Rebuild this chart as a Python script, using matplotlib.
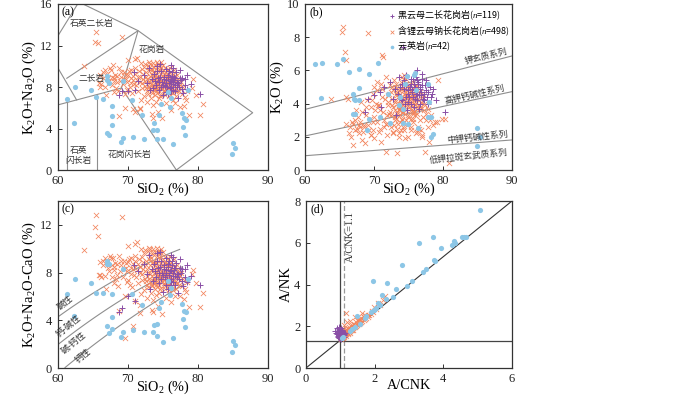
import matplotlib
matplotlib.use("Agg")
import matplotlib.pyplot as plt
import numpy as np

plt.rcParams['font.family'] = ['Liberation Serif', 'Noto Sans CJK SC']
plt.rcParams['mathtext.fontset'] = 'custom'
plt.rcParams['mathtext.rm'] = 'Liberation Serif'
plt.rcParams['mathtext.it'] = 'Liberation Serif:italic'
plt.rcParams['axes.unicode_minus'] = False

# ---------------- data ----------------
# 含锂云母钠长花岗岩 (orange crosses): SiO2, K2O+Na2O, K2O+Na2O-CaO, K2O
ms_sio2 = [65.5, 65.3, 65.8, 69.2, 63.8, 65.9, 66.7, 66.9, 66.0, 67.9,
           71.1, 71.3, 70.0, 68.7, 69.6, 70.7, 71.0, 71.7, 73.4, 73.6,
           74.3, 74.9, 76.2, 77.4, 78.3, 79.1, 79.3, 79.8, 80.8, 78.8,
           78.1, 76.4, 80.3, 66.5, 67.0, 67.3, 67.6, 68.0, 68.2, 68.5,
           68.8, 69.0, 69.3, 69.5, 69.8, 70.0, 70.3, 70.5, 70.8, 71.0,
           71.2, 71.5, 71.7, 72.0, 72.2, 67.8, 68.6, 69.9, 70.6, 71.4,
           66.2, 67.4, 72.4, 72.6, 72.8, 73.0, 73.1, 73.2, 73.3, 73.4,
           73.5, 73.6, 73.7, 73.8, 73.9, 74.0, 74.0, 74.1, 74.2, 74.3,
           74.4, 74.5, 74.6, 74.7, 74.8, 74.9, 75.0, 75.1, 75.2, 75.3,
           75.4, 75.5, 75.6, 75.7, 75.8, 75.9, 76.0, 76.1, 76.2, 76.3,
           76.5, 76.6, 76.8, 77.0, 77.2, 72.7, 72.9, 73.3, 73.5, 73.7,
           73.9, 74.1, 74.2, 74.4, 74.6, 74.7, 74.9, 75.1, 75.3, 75.5,
           75.7, 75.9, 76.1, 76.4, 76.7, 77.1, 72.5, 73.0, 73.4, 73.8,
           74.3, 74.8, 75.2, 75.6, 76.0, 76.5, 77.4, 77.6, 72.3, 71.9,
           74.0, 75.4, 77.8, 73.6, 72.1, 70.4, 69.6, 68.0, 71.8, 76.8,
           72.6, 72.8, 73.0, 73.1, 73.2, 73.3, 73.4, 73.5, 73.6, 73.7,
           73.8, 73.9, 74.0, 74.1, 74.2, 74.3, 74.4, 74.5, 74.6, 74.7,
           74.8, 74.9, 75.0, 75.1, 75.2, 75.3, 75.4, 75.5, 75.6, 75.7,
           75.8, 75.9, 76.0, 76.2, 76.3, 76.5, 76.7, 76.9, 77.1, 77.3,
           72.4, 72.2, 72.0, 71.8, 71.6, 71.3, 71.1, 70.9, 70.7, 70.4,
           70.2, 69.9, 69.7, 69.4, 69.1, 68.9, 68.4, 68.1, 67.7, 67.2,
           66.8, 66.4, 66.0, 72.9, 73.2, 73.9, 74.3, 74.6, 75.0, 75.3,
           75.7, 76.1, 76.6, 77.0, 77.5, 73.0, 73.6, 74.2, 74.7, 72.3,
           71.9, 72.6, 70.0, 68.3, 72.7, 74.5, 76.9, 78.5, 77.9, 78.0]
ms_alk = [13.3, 12.3, 12.2, 12.8, 10.0, 8.4, 8.0, 7.2, 9.2, 10.1,
          10.7, 10.8, 10.6, 5.2, 6.0, 5.9, 5.6, 5.9, 5.4, 5.0,
          5.6, 5.0, 5.8, 6.1, 6.7, 7.9, 8.8, 7.2, 6.4, 5.3,
          7.0, 6.7, 5.3, 8.9, 9.3, 8.6, 9.6, 8.9, 9.2, 8.5,
          9.8, 9.0, 8.3, 9.4, 8.8, 9.2, 8.0, 9.6, 8.7, 9.3,
          8.2, 9.0, 8.5, 9.7, 8.8, 8.2, 7.6, 7.7, 7.4, 7.6,
          8.3, 9.8, 10.2, 9.0, 8.3, 9.5, 7.8, 10.2, 8.7, 9.2,
          7.4, 8.9, 9.9, 8.1, 9.4, 8.5, 7.6, 10.4, 9.0, 8.2,
          9.7, 7.9, 8.8, 9.3, 7.2, 8.4, 9.6, 8.0, 8.9, 7.5,
          9.2, 8.6, 7.8, 9.0, 8.3, 7.1, 8.7, 9.4, 7.9, 8.5,
          7.4, 8.9, 8.1, 7.6, 8.6, 7.6, 10.0, 6.9, 9.6, 8.6,
          7.8, 8.7, 7.4, 8.5, 10.0, 8.0, 9.1, 8.5, 9.8, 8.2,
          7.5, 9.1, 8.0, 8.7, 7.7, 8.2, 8.1, 8.6, 8.0, 9.1,
          9.5, 8.6, 7.7, 8.8, 9.8, 9.3, 7.9, 8.5, 7.1, 6.7,
          6.6, 6.5, 7.3, 6.3, 7.9, 8.4, 7.3, 7.5, 6.0, 6.5,
          9.4, 8.8, 8.0, 9.1, 8.4, 9.7, 7.6, 8.2, 9.4, 7.9,
          8.8, 10.1, 9.2, 7.9, 8.4, 8.8, 7.6, 9.1, 8.2, 8.6,
          9.8, 7.8, 8.4, 9.3, 8.1, 8.7, 7.8, 9.4, 8.4, 8.1,
          9.2, 7.7, 8.3, 9.0, 7.8, 8.4, 9.1, 7.9, 8.8, 7.6,
          8.6, 9.3, 8.4, 9.0, 9.5, 8.7, 9.8, 8.3, 9.1, 8.9,
          9.5, 8.5, 9.2, 8.8, 9.4, 8.6, 9.1, 8.6, 9.0, 8.9,
          9.6, 9.4, 8.0, 7.3, 9.9, 7.2, 10.2, 7.1, 10.1, 7.2,
          9.7, 7.5, 9.6, 9.2, 8.2, 10.4, 10.3, 9.9, 10.4, 9.9,
          10.3, 7.9, 7.8, 7.9, 6.6, 6.9, 7.1, 7.6, 8.0, 6.2]
ms_mali = [12.8, 11.8, 11.1, 12.7, 9.9, 7.8, 7.7, 6.6, 8.9, 9.2,
           10.4, 10.6, 10.2, 4.8, 2.5, 3.5, 5.6, 4.6, 4.9, 4.7,
           5.2, 4.5, 5.5, 6.0, 6.4, 7.9, 8.2, 7.1, 6.3, 5.1,
           6.6, 6.5, 5.1, 8.6, 9.0, 8.1, 9.2, 8.5, 8.8, 7.8,
           9.4, 8.6, 7.6, 9.0, 8.4, 8.9, 7.0, 9.2, 8.3, 9.0,
           7.6, 8.7, 8.0, 9.3, 8.3, 7.6, 6.9, 7.2, 6.8, 7.1,
           7.6, 9.4, 9.9, 8.6, 7.7, 9.1, 7.2, 10.0, 8.2, 8.8,
           6.9, 8.4, 9.5, 7.5, 8.9, 8.0, 7.0, 10.1, 8.5, 7.7,
           9.3, 7.3, 8.3, 8.8, 6.7, 7.9, 9.1, 7.4, 8.4, 6.9,
           8.7, 8.1, 7.2, 8.6, 7.8, 6.5, 8.2, 8.9, 7.4, 7.9,
           6.8, 8.3, 7.6, 7.1, 8.0, 7.0, 9.8, 6.3, 9.6, 8.0,
           7.1, 8.2, 6.8, 7.9, 9.7, 7.5, 8.6, 7.9, 9.3, 7.6,
           7.0, 8.6, 7.5, 8.1, 7.2, 7.6, 7.5, 8.0, 7.4, 8.7,
           9.0, 8.1, 7.1, 8.3, 9.3, 8.7, 7.4, 8.0, 6.5, 6.2,
           6.1, 5.9, 6.9, 5.7, 7.4, 7.9, 6.0, 7.1, 5.3, 6.0,
           9.0, 8.3, 7.5, 8.6, 7.9, 9.2, 7.0, 7.7, 8.9, 7.3,
           8.3, 9.7, 8.7, 7.3, 7.9, 8.2, 7.0, 8.6, 7.6, 8.0,
           9.3, 7.2, 7.8, 8.8, 7.5, 8.1, 7.2, 8.9, 7.8, 7.5,
           8.6, 7.1, 7.7, 8.4, 7.2, 7.8, 8.5, 7.3, 8.2, 7.0,
           8.1, 8.9, 7.9, 8.5, 9.1, 8.2, 9.4, 7.8, 8.7, 8.4,
           9.1, 8.1, 8.8, 8.3, 9.0, 8.1, 8.7, 8.2, 8.6, 8.4,
           9.2, 9.0, 7.8, 6.8, 9.4, 6.6, 9.8, 6.6, 9.7, 6.6,
           9.2, 6.9, 9.1, 8.6, 7.7, 10.1, 10.0, 9.4, 10.0, 9.6,
           10.0, 7.3, 7.4, 7.5, 5.9, 6.3, 6.6, 7.2, 7.5, 5.8]
ms_k2o = [8.6, 8.3, 7.1, 8.25, 4.3, 6.6, 2.0, 1.5, 2.8, 2.7,
          6.9, 6.8, 5.0, 1.6, 2.1, 2.3, 1.7, 1.1, 1.0, 2.2,
          2.4, 2.0, 2.3, 1.1, 3.3, 2.9, 5.4, 3.1, 0.45, 2.9,
          3.0, 2.6, 3.1, 2.6, 2.8, 3.0, 2.5, 2.9, 3.5, 2.7,
          3.3, 4.2, 2.4, 3.8, 4.6, 3.2, 4.0, 4.8, 3.6, 5.2,
          4.4, 3.0, 5.6, 4.1, 3.4, 2.2, 2.6, 2.9, 3.9, 2.6,
          4.3, 3.6, 4.7, 4.3, 3.8, 5.0, 3.2, 4.6, 4.0, 3.5,
          2.8, 4.8, 4.2, 3.7, 5.3, 4.4, 3.0, 4.9, 3.9, 4.6,
          5.7, 3.4, 4.1, 3.6, 2.7, 4.5, 5.1, 3.8, 4.2, 3.1,
          4.7, 3.9, 2.9, 4.4, 3.5, 3.3, 4.0, 4.8, 3.7, 4.3,
          2.5, 3.8, 4.1, 2.0, 3.6, 2.3, 5.4, 2.5, 4.4, 3.3,
          4.9, 3.1, 5.0, 2.9, 4.0, 5.5, 3.2, 4.9, 4.3, 4.6,
          3.6, 5.0, 2.2, 4.5, 3.0, 4.6, 2.6, 3.6, 4.7, 3.8,
          4.2, 4.8, 4.0, 3.4, 4.1, 3.9, 3.9, 3.4, 3.5, 2.1,
          3.5, 2.4, 2.6, 2.0, 4.5, 5.3, 2.1, 2.6, 2.8, 2.4,
          3.9, 4.8, 4.1, 3.0, 5.2, 4.5, 3.4, 4.9, 3.7, 4.6,
          2.9, 4.3, 5.6, 4.0, 3.5, 4.8, 4.3, 3.7, 5.2, 4.5,
          3.9, 4.2, 3.3, 5.0, 4.4, 3.6, 4.8, 4.1, 5.3, 3.1,
          4.5, 3.9, 4.6, 3.4, 4.9, 4.2, 3.7, 4.4, 3.2, 4.0,
          3.3, 4.6, 3.9, 2.8, 4.3, 3.5, 4.9, 2.5, 3.9, 2.9,
          3.6, 2.4, 4.2, 3.1, 2.7, 3.8, 2.3, 4.1, 3.2, 2.4,
          2.9, 2.2, 4.4, 2.7, 3.1, 2.4, 5.4, 3.0, 4.6, 2.6,
          3.5, 5.1, 4.7, 4.4, 3.0, 4.2, 3.6, 2.6, 4.4, 5.1,
          3.3, 5.0, 1.9, 1.8, 2.2, 1.9, 2.1, 2.7, 3.7, 1.7]

# 黑云母二长花岗岩 (purple pluses)
bg_sio2 = [73.5, 73.8, 74.0, 74.3, 74.5, 74.7, 74.9, 75.1, 75.3, 75.5,
           75.7, 75.9, 76.0, 76.2, 76.4, 76.6, 76.8, 77.0, 77.3, 77.6,
           77.9, 78.2, 74.2, 80.3, 73.0, 72.8, 72.3, 71.5, 70.9, 70.0,
           69.2, 68.7, 71.0, 73.2, 75.0, 76.9, 77.5, 78.5, 76.1, 74.6,
           75.8, 77.1, 73.6, 74.8, 75.4, 76.5, 77.8, 79.0, 78.4, 76.3,
           75.0, 75.2, 75.6, 75.8, 76.0, 76.2, 76.3, 76.5, 76.7, 76.8,
           77.2, 77.4, 74.4, 74.6, 75.4, 75.9, 76.1, 76.4, 77.7, 78.1,
           73.9, 74.1, 75.5, 77.0, 76.6]
bg_alk = [8.8, 9.3, 8.2, 8.9, 7.7, 9.5, 8.5, 9.0, 8.1, 8.7,
          9.2, 8.4, 7.9, 8.8, 8.3, 9.0, 7.6, 8.5, 8.0, 8.7,
          7.4, 8.2, 10.0, 7.3, 9.8, 8.4, 9.2, 8.6, 9.4, 7.6,
          7.6, 7.2, 7.7, 7.7, 7.2, 9.4, 9.6, 7.8, 10.1, 10.2,
          7.3, 6.9, 7.9, 8.0, 9.7, 7.7, 8.9, 8.3, 9.2, 9.4,
          8.2, 8.8, 8.0, 9.0, 8.6, 8.0, 9.1, 8.5, 8.2, 8.9,
          8.4, 8.9, 8.5, 9.0, 8.4, 9.5, 7.6, 9.8, 7.8, 8.8,
          8.6, 9.5, 7.5, 8.0, 8.7]
bg_mali = [8.3, 8.7, 7.6, 8.4, 7.1, 9.0, 8.0, 8.6, 7.6, 8.2,
           8.7, 7.8, 7.3, 8.2, 7.7, 8.4, 7.0, 7.9, 7.5, 8.0,
           6.9, 7.6, 9.6, 7.0, 9.5, 7.9, 8.7, 8.1, 8.6, 6.0,
           5.0, 4.7, 5.6, 6.6, 6.4, 8.8, 9.1, 7.2, 9.5, 9.7,
           6.6, 6.3, 7.3, 7.5, 9.2, 7.2, 8.3, 7.7, 8.6, 9.0,
           7.8, 8.3, 7.5, 8.5, 8.1, 7.5, 8.6, 8.0, 7.7, 8.4,
           7.9, 8.4, 8.0, 8.5, 8.0, 9.0, 7.0, 9.3, 7.3, 8.3,
           8.1, 9.0, 7.0, 7.6, 8.2]
bg_k2o = [4.6, 5.0, 4.2, 5.4, 4.0, 5.7, 4.8, 4.4, 5.2, 4.7,
          5.5, 4.3, 5.0, 4.6, 5.3, 4.9, 4.5, 5.1, 4.2, 4.8,
          4.7, 4.4, 7.4, 3.5, 4.9, 4.3, 5.3, 5.0, 4.7, 4.5,
          4.3, 3.5, 3.8, 3.3, 4.1, 5.8, 5.4, 4.9, 5.6, 5.1,
          3.8, 4.3, 5.6, 3.6, 4.0, 3.7, 4.0, 4.2, 4.6, 6.0,
          4.6, 5.0, 4.4, 5.2, 4.8, 4.2, 5.4, 4.5, 5.0, 4.7,
          4.6, 5.1, 4.9, 4.4, 5.5, 4.9, 4.6, 5.2, 4.4, 5.0,
          4.3, 5.2, 4.9, 5.5, 4.0]

# 云英岩 (blue dots)
gr_sio2 = [61.4, 62.4, 62.3, 64.7, 65.5, 66.4, 67.0, 67.1, 67.3, 67.8,
           67.8, 67.8, 67.0, 67.3, 69.0, 69.3, 69.3, 70.6, 70.8, 72.1,
           72.3, 73.7, 73.6, 74.2, 74.2, 74.5, 74.8, 75.0, 76.0, 76.4,
           75.8, 77.8, 78.0, 78.3, 77.9, 78.2, 78.6, 85.0, 85.3, 84.9,
           76.1]
gr_alk = [6.8, 8.0, 4.5, 7.7, 7.0, 6.8, 9.1, 8.7, 8.4, 6.2,
          5.2, 4.3, 3.6, 3.4, 2.7, 3.1, 8.6, 6.7, 3.2, 5.3,
          3.0, 4.5, 3.9, 3.9, 3.0, 5.3, 6.4, 3.0, 6.1, 2.5,
          7.5, 5.5, 5.0, 4.8, 4.1, 3.4, 7.7, 2.6, 2.1, 1.5,
          6.9]
gr_mali = [6.2, 7.5, 4.4, 7.1, 6.3, 6.3, 9.0, 8.7, 8.7, 6.2,
           4.3, 3.3, 3.5, 2.9, 2.6, 3.0, 8.3, 6.2, 3.2, 5.3,
           3.0, 3.6, 3.0, 3.7, 2.7, 5.0, 5.5, 2.2, 6.1, 2.5,
           7.3, 5.4, 4.8, 4.7, 4.1, 3.4, 7.5, 2.3, 1.9, 1.3,
           6.7]
gr_k2o = [6.37, 6.43, 4.36, 6.40, 6.70, 5.90, 4.60, 4.28, 4.20, 6.10,
          4.96, 4.20, 3.35, 3.40, 2.40, 3.07, 5.76, 6.47, 3.17, 4.58,
          2.85, 4.42, 3.90, 3.67, 2.83, 5.16, 5.68, 2.79, 5.84, 2.51,
          5.74, 5.18, 4.08, 3.17, 3.21, 1.99, 2.15, 2.55, 2.00, 1.45,
          4.82]

# A/CNK - A/NK
ms_acnk = [1.02, 1.05, 1.08, 1.10, 1.12, 1.15, 1.18, 1.20, 1.22, 1.25,
           1.28, 1.30, 1.33, 1.35, 1.38, 1.40, 1.43, 1.46, 1.50, 1.53,
           1.56, 1.60, 1.64, 1.68, 1.72, 1.76, 1.80, 1.85, 1.90, 1.95,
           1.06, 1.10, 1.14, 1.18, 1.22, 1.26, 1.30, 1.35, 1.40, 1.45,
           1.50, 1.55, 1.60, 1.66, 1.72, 1.16, 1.12, 1.20, 1.28, 1.08,
           2.05, 2.15, 2.30, 2.25, 1.98, 1.04, 1.13, 1.24, 1.36, 1.48,
           1.58, 1.70, 1.82, 1.92, 1.00, 1.07, 1.16, 2.10, 1.62, 1.42,
           1.03, 1.09, 1.11, 1.17, 1.19, 1.23, 1.27, 1.31, 1.37, 1.44]
ms_ank = [1.40, 1.45, 1.50, 1.48, 1.55, 1.60, 1.62, 1.66, 1.70, 1.72,
          1.78, 1.80, 1.84, 1.88, 1.90, 1.95, 1.98, 2.02, 2.06, 2.12,
          2.15, 2.20, 2.26, 2.30, 2.36, 2.40, 2.46, 2.52, 2.60, 2.68,
          1.62, 1.70, 1.78, 1.85, 1.90, 1.95, 2.00, 2.08, 2.12, 2.20,
          2.28, 2.35, 2.40, 2.48, 2.55, 2.63, 2.05, 2.20, 2.26, 1.85,
          2.82, 3.00, 3.45, 3.25, 2.90, 1.55, 1.65, 1.80, 1.95, 2.10,
          2.28, 2.42, 2.56, 2.72, 1.50, 1.42, 1.52, 3.10, 2.65, 2.45,
          1.48, 1.58, 1.66, 1.72, 1.76, 1.62, 1.70, 1.86, 1.82, 2.05]
bg_acnk = [0.88, 0.90, 0.92, 0.94, 0.95, 0.96, 0.97, 0.98, 0.99, 1.00,
           1.01, 1.02, 1.03, 1.04, 1.05, 1.06, 1.07, 1.08, 1.10, 1.12,
           0.91, 0.86, 0.93, 0.97, 1.00, 1.03, 1.09, 1.14, 0.95, 1.01,
           1.05, 0.99, 0.94, 1.06, 1.11]
bg_ank = [1.70, 1.62, 1.78, 1.55, 1.68, 1.85, 1.50, 1.60, 1.72, 1.45,
          1.58, 1.66, 1.52, 1.75, 1.60, 1.48, 1.68, 1.56, 1.62, 1.58,
          1.90, 1.78, 1.48, 1.95, 1.82, 1.90, 1.74, 1.68, 1.42, 1.40,
          1.52, 1.55, 1.65, 1.80, 1.50]
gr_acnk = [5.06, 4.55, 4.60, 4.67, 4.31, 4.34, 4.26, 3.70, 3.93, 3.29,
           3.72, 3.75, 2.80, 3.49, 3.41, 3.08, 2.93, 2.62, 2.54, 1.96,
           2.36, 2.22, 2.33, 2.10, 2.15, 2.05, 1.99, 1.90, 1.76, 1.73,
           1.49, 1.57, 1.42, 1.35, 1.28, 1.09, 1.06]
gr_ank = [7.55, 6.29, 6.26, 6.28, 6.10, 6.00, 5.90, 6.29, 5.73, 5.97,
          5.19, 5.12, 4.94, 4.74, 4.58, 4.19, 3.95, 3.77, 3.39, 4.15,
          4.08, 3.48, 3.29, 3.11, 3.00, 2.87, 2.79, 2.70, 2.47, 2.40,
          2.47, 2.10, 1.95, 1.85, 1.78, 1.50, 1.43]

lbl_bg = '黑云母二长花岗岩($n$=119)'
lbl_ms = '含锂云母钠长花岗岩($n$=498)'
lbl_gr = '云英岩($n$=42)'

# ---------------- style ----------------
C_MS = '#F2845C'
C_BG = '#8A4FA6'
C_GR = '#8CC6E6'
C_LN = '#8E8E8E'
CJK = ['Noto Sans CJK SC', 'Liberation Serif']


def scatter_all(ax, xs, ys, label=False):
    ax.scatter(xs[0], ys[0], marker='x', s=14, c=C_MS, linewidths=0.55,
               label=lbl_ms if label else None, zorder=3)
    ax.scatter(xs[1], ys[1], marker='+', s=14, c=C_BG, linewidths=0.7,
               label=lbl_bg if label else None, zorder=4)
    ax.scatter(xs[2], ys[2], marker='o', s=14, c=C_GR, linewidths=0,
               label=lbl_gr if label else None, zorder=5)


def style(ax):
    for sp in ax.spines.values():
        sp.set_linewidth(0.9)
        sp.set_color('#333333')
    ax.tick_params(direction='in', labelsize=9, length=3, width=0.7,
                   colors='#333333', labelcolor='#222222')
    ax.tick_params(axis='x', pad=3.5)
    ax.tick_params(axis='y', pad=4)


fig = plt.figure(figsize=(7.0, 3.96), dpi=100)
axa = fig.add_axes([0.0824, 0.5707, 0.3004, 0.4192])
axb = fig.add_axes([0.4357, 0.5707, 0.2957, 0.4192])
axc = fig.add_axes([0.0824, 0.0707, 0.3004, 0.4217])
axd = fig.add_axes([0.4371, 0.0707, 0.2943, 0.4217])

XL = dict(fontsize=10.3, labelpad=-4.5)
YL = dict(fontsize=10.5, labelpad=1)
tk = dict(fontsize=6.3, family=CJK, color='#333333', zorder=6)

# ---- (a) ----
ax = axa
segs_a = [[(60.1, 13.0), (62.85, 16.0)],
          [(63.6, 16.0), (71.47, 13.43), (87.82, 5.52), (76.93, 0.0)],
          [(61.3, 8.84), (71.47, 13.43), (69.1, 7.9), (76.93, 0.0)],
          [(60.1, 9.76), (62.7, 6.75)],
          [(60.0, 6.27), (69.1, 7.9)],
          [(61.3, 0.0), (61.3, 6.6)],
          [(65.55, 0.0), (65.55, 7.25)]]
for s in segs_a:
    s = np.array(s)
    ax.plot(s[:, 0], s[:, 1], color=C_LN, lw=0.8, zorder=2)
scatter_all(ax, [ms_sio2, bg_sio2, gr_sio2], [ms_alk, bg_alk, gr_alk])
ax.set_xlim(60, 90)
ax.set_ylim(0, 16)
ax.set_xticks([60, 70, 80, 90])
ax.set_yticks([0, 4, 8, 12, 16])
ax.set_xlabel('SiO$_2$ (%)', **XL)
ax.set_ylabel('K$_2$O+Na$_2$O (%)', **YL)
ax.text(64.8, 14.1, '石英二长岩', ha='center', va='center', **tk)
ax.text(73.4, 11.6, '花岗岩', ha='center', va='center', **tk)
ax.text(64.8, 8.8, '二长岩', ha='center', va='center', **tk)
ax.text(63.0, 1.4, '石英\n闪长岩', ha='center', va='center', linespacing=1.1, **tk)
ax.text(70.2, 1.45, '花岗闪长岩', ha='center', va='center', **tk)
ax.text(0.02, 0.985, '(a)', transform=ax.transAxes, ha='left', va='top', fontsize=8.5)
style(ax)

# ---- (b) ----
ax = axb
ax.plot([60, 90], [3.65, 6.87], color=C_LN, lw=0.8, zorder=2)
ax.plot([60, 90], [2.05, 4.72], color=C_LN, lw=0.8, zorder=2)
ax.plot([60, 90], [0.86, 1.81], color=C_LN, lw=0.8, zorder=2)
scatter_all(ax, [ms_sio2, bg_sio2, gr_sio2], [ms_k2o, bg_k2o, gr_k2o], label=True)
ax.set_xlim(60, 90)
ax.set_ylim(0, 10)
ax.set_xticks([60, 70, 80, 90])
ax.set_yticks([0, 2, 4, 6, 8, 10])
ax.set_xlabel('SiO$_2$ (%)', **XL)
ax.set_ylabel('K$_2$O (%)', **YL)
ax.text(86.2, 6.85, '钾玄质系列', rotation=14, ha='center', va='center', **tk)
ax.text(84.6, 4.55, '高钾钙碱性系列', rotation=13, ha='center', va='center', **tk)
ax.text(84.9, 2.0, '中钾钙碱性系列', rotation=6, ha='center', va='center', **tk)
ax.text(83.7, 0.8, '低钾拉斑玄武质系列', rotation=6, ha='center', va='center', **tk)
ax.text(0.02, 0.985, '(b)', transform=ax.transAxes, ha='left', va='top', fontsize=8.5)
h, l = ax.get_legend_handles_labels()
order = [1, 0, 2]
ax.legend([h[i] for i in order], [l[i] for i in order], loc='upper right',
          bbox_to_anchor=(1.02, 1.01), frameon=False,
          prop={'family': CJK, 'size': 6.5}, handletextpad=0.1,
          labelspacing=0.15, handlelength=0.8, borderaxespad=0.3,
          markerscale=0.7)
style(ax)

# ---- (c) ----
ax = axc
bx = np.linspace(60, 77.4, 50)
ax.plot(bx, -41.86 + 1.112 * bx - 0.00572 * bx ** 2, color=C_LN, lw=0.8, zorder=2)
bx = np.linspace(60, 77.8, 50)
ax.plot(bx, -44.72 + 1.094 * bx - 0.00527 * bx ** 2, color=C_LN, lw=0.8, zorder=2)
bx = np.linspace(61.05, 77.8, 50)
ax.plot(bx, -45.36 + 1.0043 * bx - 0.00427 * bx ** 2, color=C_LN, lw=0.8, zorder=2)
scatter_all(ax, [ms_sio2, bg_sio2, gr_sio2], [ms_mali, bg_mali, gr_mali])
ax.set_xlim(60, 90)
ax.set_ylim(0, 14)
ax.set_xticks([60, 70, 80, 90])
ax.set_yticks([0, 4, 8, 12])
ax.set_xlabel('SiO$_2$ (%)', **XL)
ax.set_ylabel('K$_2$O+Na$_2$O-CaO (%)', **YL)
ax.text(61.0, 5.5, '碱性', rotation=40, ha='center', va='center', **tk)
ax.text(61.6, 3.5, '钙-碱性', rotation=40, ha='center', va='center', **tk)
ax.text(62.3, 2.1, '碱-钙性', rotation=40, ha='center', va='center', **tk)
ax.text(63.7, 1.0, '钙性', rotation=40, ha='center', va='center', **tk)
ax.text(0.02, 0.985, '(c)', transform=ax.transAxes, ha='left', va='top', fontsize=8.5)
style(ax)

# ---- (d) ----
ax = axd
ax.plot([0, 6], [0, 8], color='#333333', lw=0.8, zorder=2)
ax.axvline(1.0, color='#444444', lw=0.9, zorder=2)
ax.axvline(1.1, color='#999999', lw=0.9, ls=(0, (4, 2)), zorder=2)
ax.axhline(1.3, color='#444444', lw=0.9, zorder=2)
scatter_all(ax, [ms_acnk, bg_acnk, gr_acnk], [ms_ank, bg_ank, gr_ank])
ax.set_xlim(0, 6)
ax.set_ylim(0, 8)
ax.set_xticks([0, 2, 4, 6])
ax.set_yticks([0, 2, 4, 6, 8])
ax.set_xlabel('A/CNK', **XL)
ax.set_ylabel('A/NK', **YL)
ax.text(1.3, 6.3, 'A/CNK=1.1', rotation=90, ha='center', va='center', fontsize=7.5,
        color='#333333')
ax.text(0.02, 0.985, '(d)', transform=ax.transAxes, ha='left', va='top', fontsize=8.5)
style(ax)

fig.savefig('out.png', dpi=100)
